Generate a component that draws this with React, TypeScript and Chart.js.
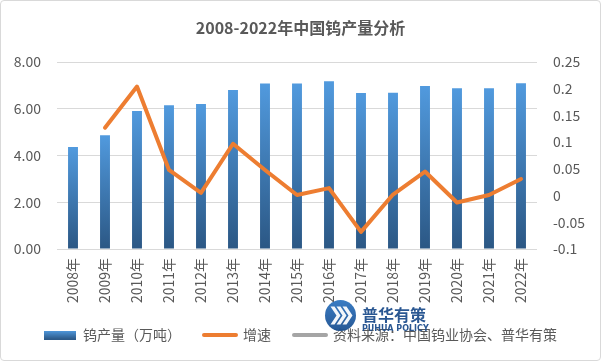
import React, { useEffect, useRef } from "react";
import { Chart, registerables } from "chart.js";

Chart.register(...registerables);

const years: string[] = [
  "2008年", "2009年", "2010年", "2011年", "2012年", "2013年", "2014年", "2015年",
  "2016年", "2017年", "2018年", "2019年", "2020年", "2021年", "2022年",
];
const production: number[] = [
  4.36, 4.87, 5.9, 6.15, 6.2, 6.8, 7.08, 7.08, 7.18, 6.67, 6.68, 6.97, 6.88, 6.88, 7.09,
];
const growth: (number | null)[] = [
  null, 0.127, 0.204, 0.048, 0.005, 0.097, 0.048, 0.001, 0.014, -0.068, 0.002, 0.045, -0.013, 0.001, 0.031,
];
const titleText = "2008-2022年中国钨产量分析";
const barLabel = "钨产量（万吨）";
const lineLabel = "增速";
const sourceLabel = "资料来源：中国钨业协会、普华有策";

const FONT = "'Noto Sans CJK SC', 'Noto Sans', sans-serif";
const TEXT = "#595959";
const GRID = "#d9d9d9";
const BAR_TOP = "#519ade";
const BAR_BOTTOM = "#2b5784";
const ORANGE = "#ED7D31";
const GRAY = "#a5a5a5";

function makeSwatch(): HTMLCanvasElement {
  const c = document.createElement("canvas");
  c.width = 32;
  c.height = 9;
  const x = c.getContext("2d")!;
  const g = x.createLinearGradient(0, 0, 0, 9);
  g.addColorStop(0, BAR_TOP);
  g.addColorStop(1, BAR_BOTTOM);
  x.fillStyle = g;
  x.fillRect(0, 0, 32, 9);
  return c;
}

const logoPlugin = {
  id: "logoMark",
  afterDraw(chart: any) {
    const ctx: CanvasRenderingContext2D = chart.ctx;
    ctx.save();
    ctx.globalAlpha = 0.95;
    const cx = 339.5, cy = 314.5, r = 15.5;
    const g = ctx.createLinearGradient(cx, cy - r, cx, cy + r);
    g.addColorStop(0, "#2f75c0");
    g.addColorStop(1, "#1b4f8f");
    ctx.beginPath();
    ctx.arc(cx, cy, r, 0, Math.PI * 2);
    ctx.fillStyle = g;
    ctx.fill();
    // chevrons
    ctx.fillStyle = "#ffffff";
    for (let i = 0; i < 3; i++) {
      const ox = cx - 10 + i * 6;
      ctx.beginPath();
      ctx.moveTo(ox, cy - 9);
      ctx.lineTo(ox + 4, cy - 9);
      ctx.lineTo(ox + 10, cy);
      ctx.lineTo(ox + 4, cy + 9);
      ctx.lineTo(ox, cy + 9);
      ctx.lineTo(ox + 6, cy);
      ctx.closePath();
      ctx.fill();
    }
    ctx.fillStyle = "#1f4e8c";
    ctx.textBaseline = "middle";
    ctx.textAlign = "left";
    ctx.font = `bold 16px ${FONT}`;
    ctx.fillText("普华有策", 361, 313.5);
    ctx.font = `bold 8px 'DejaVu Sans', sans-serif`;
    ctx.fillText("PUHUA POLICY", 361, 328);
    ctx.restore();
  },
};

export default function App() {
  const ref = useRef<HTMLCanvasElement>(null);

  useEffect(() => {
    document.body.style.margin = "0";
    const canvas = ref.current!;
    const swatch = makeSwatch();

    const chart = new Chart(canvas, {
      type: "bar",
      data: {
        labels: years,
        datasets: [
          {
            type: "line",
            label: lineLabel,
            data: growth,
            yAxisID: "y1",
            borderColor: ORANGE,
            backgroundColor: ORANGE,
            borderWidth: 4,
            borderCapStyle: "round",
            borderJoinStyle: "round",
            pointRadius: 0,
            pointHoverRadius: 0,
            tension: 0,
            order: 1,
          },
          {
            type: "bar",
            label: barLabel,
            data: production,
            yAxisID: "y",
            backgroundColor: (c: any) => {
              const ch = c.chart;
              if (!ch.chartArea || c.raw == null) return BAR_TOP;
              const ys = ch.scales.y;
              const top = ys.getPixelForValue(c.raw);
              const bottom = ys.getPixelForValue(0);
              const g = ch.ctx.createLinearGradient(0, top, 0, bottom);
              g.addColorStop(0, BAR_TOP);
              g.addColorStop(1, BAR_BOTTOM);
              return g;
            },
            borderWidth: 0,
            categoryPercentage: 1,
            barPercentage: 0.31,
            order: 2,
          },
          {
            type: "line",
            label: sourceLabel,
            data: [],
            yAxisID: "y1",
            borderColor: GRAY,
            backgroundColor: GRAY,
            borderWidth: 4,
            pointRadius: 0,
            order: 3,
          },
        ],
      },
      options: {
        responsive: false,
        animation: false,
        events: [],
        layout: { padding: { left: 0, right: 0, top: 0, bottom: 8 } },
        font: { family: FONT },
        plugins: {
          tooltip: { enabled: false },
          title: {
            display: true,
            text: titleText,
            color: TEXT,
            font: { family: FONT, size: 16, weight: "bold", lineHeight: 1.2 },
            padding: { top: 17, bottom: 24.8 },
          },
          legend: {
            display: true,
            position: "bottom",
            labels: {
              usePointStyle: true,
              pointStyleWidth: 32,
              boxHeight: 9,
              padding: 23,
              color: TEXT,
              font: { family: FONT, size: 14 },
              generateLabels: () => [
                {
                  text: barLabel,
                  fillStyle: BAR_TOP,
                  strokeStyle: BAR_TOP,
                  lineWidth: 0,
                  pointStyle: swatch,
                  hidden: false,
                  datasetIndex: 1,
                  fontColor: TEXT,
                },
                {
                  text: lineLabel,
                  fillStyle: ORANGE,
                  strokeStyle: ORANGE,
                  lineWidth: 4,
                  lineCap: "round",
                  pointStyle: "line",
                  hidden: false,
                  datasetIndex: 0,
                  fontColor: TEXT,
                },
                {
                  text: sourceLabel,
                  fillStyle: GRAY,
                  strokeStyle: GRAY,
                  lineWidth: 4,
                  lineCap: "round",
                  pointStyle: "line",
                  hidden: false,
                  datasetIndex: 2,
                  fontColor: TEXT,
                },
              ] as any,
            },
          },
        },
        scales: {
          x: {
            offset: true,
            grid: { display: false, drawTicks: false },
            border: { display: false },
            ticks: {
              color: TEXT,
              font: { family: FONT, size: 14 },
              minRotation: 90,
              maxRotation: 90,
              padding: 9,
              autoSkip: false,
            },
            afterFit: (s: any) => {
              s.height = 56;
            },
          },
          y: {
            position: "left",
            min: 0,
            max: 8,
            grid: { color: GRID, lineWidth: 1, drawTicks: false },
            border: { display: false },
            ticks: {
              stepSize: 2,
              color: TEXT,
              font: { family: FONT, size: 14 },
              padding: 16,
              callback: (v: any) => Number(v).toFixed(2),
            },
            afterFit: (s: any) => {
              s.width = 56;
            },
          },
          y1: {
            position: "right",
            min: -0.1,
            max: 0.25,
            grid: { display: false, drawTicks: false },
            border: { display: false },
            ticks: {
              stepSize: 0.05,
              color: TEXT,
              font: { family: FONT, size: 14 },
              padding: 16,
              callback: (v: any) => String(parseFloat(Number(v).toFixed(2))),
            },
            afterFit: (s: any) => {
              s.width = 63;
            },
          },
        },
      },
      plugins: [logoPlugin],
    } as any);

    return () => chart.destroy();
  }, []);

  return (
    <div
      style={{
        width: 601,
        height: 361,
        boxSizing: "border-box",
        border: "1px solid #d9d9d9",
        borderRadius: 4,
        background: "#fff",
        position: "relative",
      }}
    >
      <canvas ref={ref} width={599} height={359} style={{ display: "block" }} />
    </div>
  );
}
